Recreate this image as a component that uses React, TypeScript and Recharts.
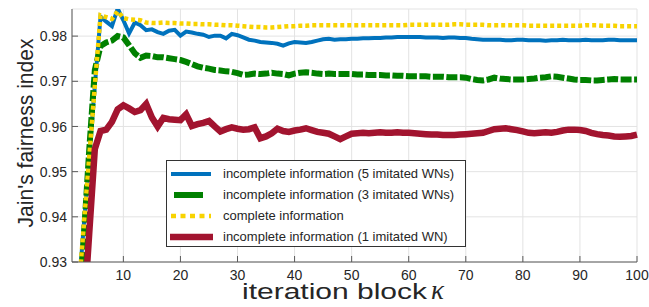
import { LineChart, Line, XAxis, YAxis, CartesianGrid, Legend } from 'recharts'

const FONT = '"Liberation Sans", Arial, Helvetica, sans-serif'
const AXIS_COLOR = '#5a5a5a'
const TEXT_COLOR = '#262626'
const TICK_LEN = 6

// iteration block index
const blocks = Array.from({ length: 100 }, (_, i) => i + 1)
const xTicks = [10, 20, 30, 40, 50, 60, 70, 80, 90, 100]
const yTicks = [0.93, 0.94, 0.95, 0.96, 0.97, 0.98]

const imitated5 = [
  0.905, 0.921, 0.937, 0.953, 0.969, 0.9843, 0.9832, 0.9822, 0.9861, 0.9835,
  0.9806, 0.983, 0.9824, 0.9813, 0.9815, 0.9809, 0.9805, 0.9812, 0.9814, 0.9801,
  0.981, 0.9808, 0.9805, 0.9803, 0.9798, 0.9801, 0.9801, 0.9795, 0.9805, 0.9802,
  0.9797, 0.9792, 0.979, 0.9787, 0.9786, 0.9785, 0.9783, 0.9779, 0.9784, 0.9787,
  0.9786, 0.9785, 0.9787, 0.979, 0.9793, 0.9794, 0.9792, 0.9793, 0.9793, 0.9794,
  0.9794, 0.9795, 0.9795, 0.9796, 0.9796, 0.9797, 0.9797, 0.9798, 0.9798, 0.9798,
  0.9798, 0.9798, 0.9797, 0.9797, 0.9797, 0.9796, 0.9797, 0.9797, 0.9796, 0.9796,
  0.9794, 0.9793, 0.9792, 0.9792, 0.9792, 0.9792, 0.9791, 0.9791, 0.9792, 0.9792,
  0.9791, 0.9791, 0.9791, 0.979, 0.9791, 0.9791, 0.9792, 0.9791, 0.9791, 0.9791,
  0.9792, 0.9791, 0.9791, 0.9791, 0.9792, 0.9792, 0.9791, 0.9791, 0.9791, 0.9791,
]

const imitated3 = [
  0.897, 0.914, 0.934, 0.9545, 0.9725, 0.9778, 0.9786, 0.979, 0.98, 0.9797,
  0.978, 0.9762, 0.9752, 0.9757, 0.9756, 0.9753, 0.9753, 0.9751, 0.9749, 0.9747,
  0.9743, 0.9738, 0.9733, 0.973, 0.9728, 0.9725, 0.9724, 0.9722, 0.9721, 0.9718,
  0.9714, 0.9715, 0.9717, 0.9716, 0.9717, 0.9719, 0.9717, 0.9716, 0.9713, 0.9717,
  0.9719, 0.972, 0.9719, 0.9717, 0.9716, 0.9717, 0.9716, 0.9716, 0.9716, 0.9716,
  0.9715, 0.9715, 0.9714, 0.9714, 0.9714, 0.9713, 0.9713, 0.9712, 0.9712, 0.9711,
  0.9711, 0.9711, 0.9711, 0.971, 0.971, 0.971, 0.9709, 0.9709, 0.9709, 0.9708,
  0.9705, 0.9703, 0.9702, 0.9704, 0.9708, 0.9706, 0.9705, 0.9704, 0.9704, 0.9704,
  0.9705, 0.9706, 0.9708, 0.9709, 0.9711, 0.971, 0.9708, 0.9706, 0.9704, 0.9703,
  0.9703, 0.9702, 0.9702, 0.9703, 0.9704, 0.9705, 0.9704, 0.9704, 0.9704, 0.9704,
]

const complete = [
  0.905, 0.921, 0.937, 0.953, 0.969, 0.9846, 0.9842, 0.9838, 0.9855, 0.984,
  0.9837, 0.9836, 0.9835, 0.983, 0.9829, 0.9829, 0.983, 0.9829, 0.9829, 0.9828,
  0.9828, 0.9827, 0.9827, 0.9826, 0.9826, 0.9825, 0.9825, 0.9824, 0.9824, 0.9823,
  0.9822, 0.9821, 0.982, 0.982, 0.9819, 0.9819, 0.982, 0.9821, 0.9822, 0.9822,
  0.9823, 0.9823, 0.9824, 0.9824, 0.9824, 0.9824, 0.9824, 0.9824, 0.9824, 0.9824,
  0.9824, 0.9824, 0.9824, 0.9824, 0.9824, 0.9824, 0.9824, 0.9824, 0.9824, 0.9825,
  0.9825, 0.9825, 0.9825, 0.9825, 0.9825, 0.9825, 0.9825, 0.9826, 0.9826, 0.9825,
  0.9825, 0.9825, 0.9825, 0.9824, 0.9824, 0.9824, 0.9824, 0.9824, 0.9824, 0.9824,
  0.9823, 0.9823, 0.9823, 0.9823, 0.9823, 0.9823, 0.9823, 0.9823, 0.9823, 0.9823,
  0.9824, 0.9824, 0.9824, 0.9823, 0.9823, 0.9823, 0.9822, 0.9822, 0.9822, 0.9822,
]

const imitated1 = [
  0.88, 0.9, 0.917, 0.936, 0.955, 0.959, 0.9593, 0.961, 0.9638, 0.9647,
  0.964, 0.9632, 0.9636, 0.965, 0.962, 0.96, 0.9619, 0.9616, 0.9615, 0.9614,
  0.9627, 0.9601, 0.9605, 0.9608, 0.9612, 0.96, 0.9589, 0.9594, 0.9598, 0.9595,
  0.9593, 0.9594, 0.9598, 0.9574, 0.9578, 0.9585, 0.9595, 0.959, 0.9588, 0.9591,
  0.9593, 0.9596, 0.9592, 0.9588, 0.9586, 0.9584, 0.9578, 0.9572, 0.9578, 0.9584,
  0.9585, 0.9586, 0.9585, 0.9586, 0.9587, 0.9586, 0.9586, 0.9587, 0.9586, 0.9586,
  0.9585, 0.9584, 0.9583, 0.9582, 0.9582, 0.9581, 0.9581, 0.9581, 0.9582, 0.9583,
  0.9584, 0.9585, 0.9586, 0.959, 0.9594, 0.9595, 0.9596, 0.9594, 0.9592, 0.9589,
  0.9586, 0.9585, 0.9586, 0.9587, 0.9586, 0.9588, 0.9591, 0.9593, 0.9593, 0.9592,
  0.959, 0.9586, 0.9583, 0.9581, 0.958, 0.9578, 0.9577, 0.9578, 0.9579, 0.9582,
]

const SERIES = [
  { key: 'imitated5', name: 'incomplete information (5 imitated WNs)', color: '#0072BD', width: 4, dash: undefined },
  { key: 'imitated3', name: 'incomplete information (3 imitated WNs)', color: '#008000', width: 6, dash: '11 2.5' },
  { key: 'complete', name: 'complete information', color: '#F8D300', width: 4.5, dash: '4 3' },
  { key: 'imitated1', name: 'incomplete information (1 imitated WN)', color: '#A2142F', width: 6.5, dash: undefined },
]

const data = blocks.map((k, i) => ({
  k,
  imitated5: imitated5[i],
  imitated3: imitated3[i],
  complete: complete[i],
  imitated1: imitated1[i],
}))

const BottomTick = ({ x, y, payload }: any) => (
  <g>
    <line x1={x} y1={y} x2={x} y2={y - TICK_LEN} stroke={AXIS_COLOR} />
    <text x={x} y={y + 18} textAnchor="middle" fontSize={14} fontFamily={FONT} fill={TEXT_COLOR}>
      {payload.value}
    </text>
  </g>
)

const TopTick = ({ x, y }: any) => (
  <line x1={x} y1={y} x2={x} y2={y + TICK_LEN} stroke={AXIS_COLOR} />
)

const LeftTick = ({ x, y, payload }: any) => (
  <g>
    <line x1={x} y1={y} x2={x + TICK_LEN} y2={y} stroke={AXIS_COLOR} />
    <text x={x - 5} y={y} dy="0.36em" textAnchor="end" fontSize={14} fontFamily={FONT} fill={TEXT_COLOR}>
      {payload.value.toFixed(2)}
    </text>
  </g>
)

const RightTick = ({ x, y }: any) => (
  <line x1={x} y1={y} x2={x - TICK_LEN} y2={y} stroke={AXIS_COLOR} />
)

const renderLegend = () => (
  <div
    style={{
      border: '1px solid #333',
      background: '#fff',
      width: 300,
      height: 87,
      boxSizing: 'border-box',
      paddingTop: 2,
      fontFamily: FONT,
      fontSize: 13,
      color: TEXT_COLOR,
    }}
  >
    {SERIES.map((s) => (
      <div key={s.key} style={{ height: 21, display: 'flex', alignItems: 'center' }}>
        <svg width={56} height={12} style={{ flex: 'none' }}>
          {s.key === 'imitated3' ? (
            <line x1={7} y1={6} x2={36} y2={6} stroke={s.color} strokeWidth={s.width} />
          ) : (
            <line
              x1={s.key === 'imitated1' ? 3 : 4}
              y1={6}
              x2={s.key === 'imitated1' ? 46 : 44}
              y2={6}
              stroke={s.color}
              strokeWidth={s.width}
              strokeDasharray={s.key === 'complete' ? '5 4.5' : undefined}
            />
          )}
        </svg>
        <span style={{ whiteSpace: 'nowrap' }}>{s.name}</span>
      </div>
    ))}
  </div>
)

const YTitle = () => (
  <text
    x={33}
    y={133}
    transform="rotate(-90, 33, 133)"
    textAnchor="middle"
    fontSize={22}
    fontFamily={FONT}
    fill={TEXT_COLOR}
    textLength={189}
    lengthAdjust="spacingAndGlyphs"
  >
    Jain's fairness index
  </text>
)

const XTitle = () => (
  <g>
    <text x={242} y={299} fontSize={22} fontFamily={FONT} fill={TEXT_COLOR} textLength={185} lengthAdjust="spacingAndGlyphs">
      iteration block
    </text>
    <text x={431} y={299} fontSize={27} fontStyle="italic" fontFamily='"Liberation Serif", "Times New Roman", serif' fill={TEXT_COLOR}>
      κ
    </text>
  </g>
)

export default function App() {
  return (
    <div style={{ position: 'absolute', left: 0, top: 0, background: '#fff' }}>
      <LineChart width={649} height={307} data={data} margin={{ top: 9, right: 12, left: 0, bottom: 0 }}>
        <CartesianGrid stroke="#e3e3e3" strokeWidth={1} />
        <XAxis
          dataKey="k"
          type="number"
          domain={[1, 100]}
          ticks={xTicks}
          height={45}
          tickSize={0}
          tickMargin={0}
          tickLine={false}
          axisLine={{ stroke: AXIS_COLOR }}
          tick={BottomTick}
          label={{ content: XTitle }}
        />
        <XAxis
          xAxisId="top"
          orientation="top"
          dataKey="k"
          type="number"
          domain={[1, 100]}
          ticks={xTicks}
          height={0}
          tickSize={0}
          tickMargin={0}
          tickLine={false}
          axisLine={{ stroke: AXIS_COLOR }}
          tick={TopTick}
        />
        <YAxis
          type="number"
          domain={[0.93, 0.986]}
          allowDataOverflow
          ticks={yTicks}
          width={72}
          tickSize={0}
          tickMargin={0}
          tickLine={false}
          axisLine={{ stroke: AXIS_COLOR }}
          tick={LeftTick}
          label={{ content: YTitle }}
        />
        <YAxis
          yAxisId="right"
          orientation="right"
          type="number"
          domain={[0.93, 0.986]}
          allowDataOverflow
          ticks={yTicks}
          width={0}
          tickSize={0}
          tickMargin={0}
          tickLine={false}
          axisLine={{ stroke: AXIS_COLOR }}
          tick={RightTick}
        />
        <Legend
          layout="vertical"
          align="center"
          verticalAlign="middle"
          content={renderLegend}
          wrapperStyle={{ left: 166, top: 160, width: 300, height: 87 }}
        />
        {SERIES.map((s) => (
          <Line
            key={s.key}
            type="linear"
            dataKey={s.key}
            name={s.name}
            stroke={s.color}
            strokeWidth={s.width}
            strokeDasharray={s.dash}
            dot={false}
            activeDot={false}
            isAnimationActive={false}
          />
        ))}
      </LineChart>
    </div>
  )
}
